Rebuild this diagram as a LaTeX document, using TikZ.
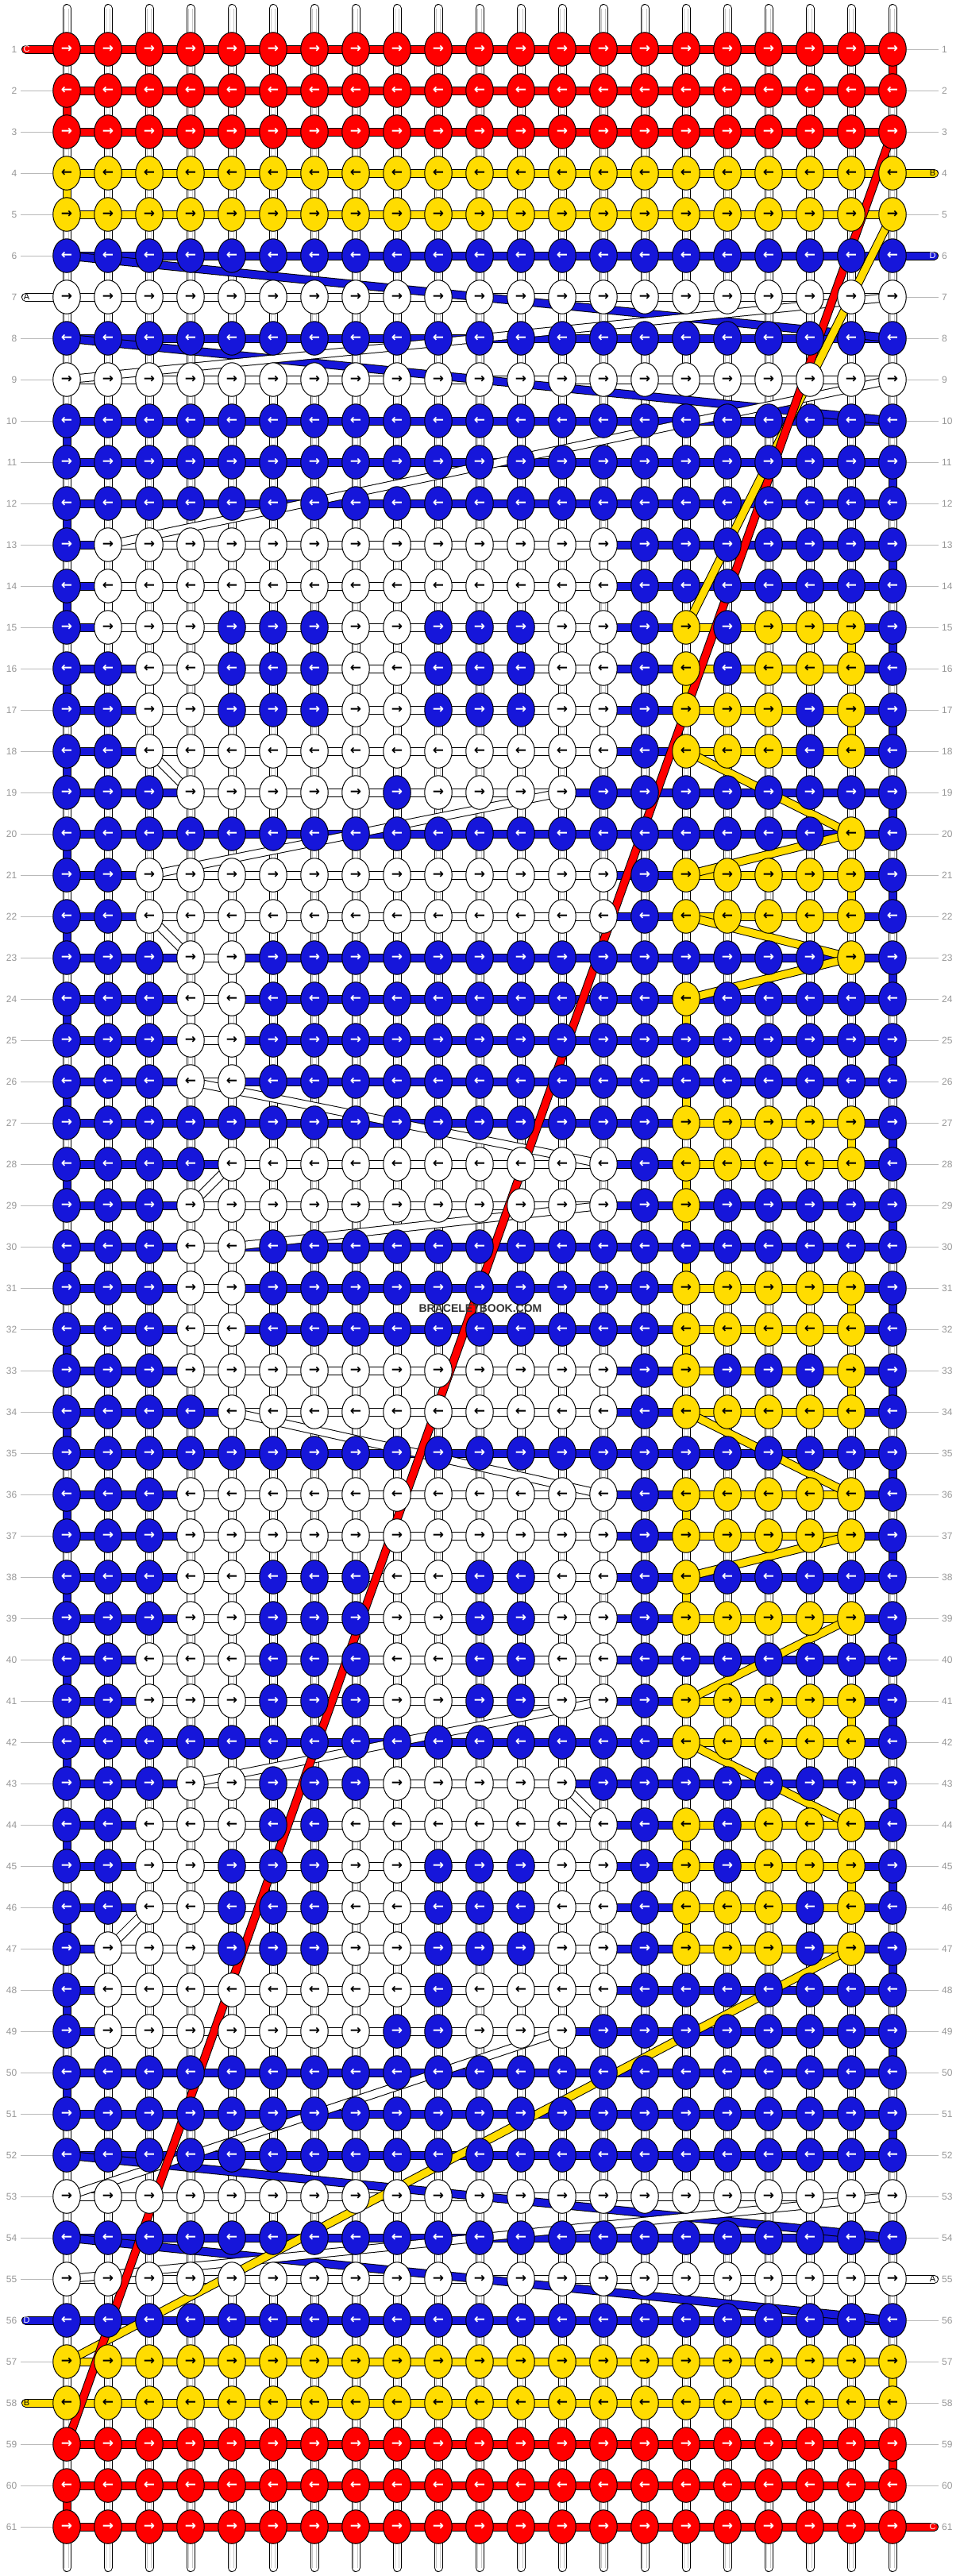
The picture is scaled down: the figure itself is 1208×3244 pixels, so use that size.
\documentclass[tikz,border=0pt]{standalone}
\usepackage{fontspec}
\setmainfont{Liberation Sans}
\newfontfamily\arrowfont{DejaVu Sans}
\usetikzlibrary{shapes.geometric}

\definecolor{kred}{RGB}{255,0,0}
\definecolor{kblue}{RGB}{22,22,218}
\definecolor{kyellow}{RGB}{255,220,0}
\definecolor{numgrey}{RGB}{150,150,150}
\definecolor{tickgrey}{RGB}{185,185,185}
% knot fill (f) and arrow (t) colours by letter
\colorlet{fR}{kred}\colorlet{fB}{kblue}\colorlet{fY}{kyellow}\colorlet{fW}{white}
\colorlet{tR}{white}\colorlet{tB}{white}\colorlet{tY}{black}\colorlet{tW}{black}

\pgfdeclarelayer{warps}
\pgfdeclarelayer{bands}
\pgfdeclarelayer{diags}
\pgfsetlayers{warps,bands,diags,main}

\tikzset{
  knot/.style={ellipse, draw=black, line width=1pt, minimum width=34.5pt,
    minimum height=42.5pt, inner sep=0pt,
    font=\arrowfont\bfseries\fontsize{17}{17}\selectfont},
  band/.style={draw=black, line width=11pt, postaction={draw=#1, line width=9pt}},
  tab/.style={band=#1, line cap=round},
  warpout/.style={draw=black, line width=11pt, line cap=round},
  warpin/.style={draw=white, line width=9pt, line cap=round},
  warpmid/.style={draw=black!22, line width=0.8pt},
  rownum/.style={text=numgrey, font=\fontsize{12}{12}\selectfont, inner sep=0pt},
  rowline/.style={draw=tickgrey, line width=1pt},
  tabtext/.style={font=\fontsize{11}{11}\selectfont, inner sep=0pt},
}

\begin{document}
\begin{tikzpicture}[x=1pt,y=-1pt]
\useasboundingbox (0,0) rectangle (1208,3244);

%%% knots, one row per line %%%
\foreach \r/\pat in {
  1/{R,R,R,R,R,R,R,R,R,R,R,R,R,R,R,R,R,R,R,R,R},
  2/{R,R,R,R,R,R,R,R,R,R,R,R,R,R,R,R,R,R,R,R,R},
  3/{R,R,R,R,R,R,R,R,R,R,R,R,R,R,R,R,R,R,R,R,R},
  4/{Y,Y,Y,Y,Y,Y,Y,Y,Y,Y,Y,Y,Y,Y,Y,Y,Y,Y,Y,Y,Y},
  5/{Y,Y,Y,Y,Y,Y,Y,Y,Y,Y,Y,Y,Y,Y,Y,Y,Y,Y,Y,Y,Y},
  6/{B,B,B,B,B,B,B,B,B,B,B,B,B,B,B,B,B,B,B,B,B},
  7/{W,W,W,W,W,W,W,W,W,W,W,W,W,W,W,W,W,W,W,W,W},
  8/{B,B,B,B,B,B,B,B,B,B,B,B,B,B,B,B,B,B,B,B,B},
  9/{W,W,W,W,W,W,W,W,W,W,W,W,W,W,W,W,W,W,W,W,W},
  10/{B,B,B,B,B,B,B,B,B,B,B,B,B,B,B,B,B,B,B,B,B},
  11/{B,B,B,B,B,B,B,B,B,B,B,B,B,B,B,B,B,B,B,B,B},
  12/{B,B,B,B,B,B,B,B,B,B,B,B,B,B,B,B,B,B,B,B,B},
  13/{B,W,W,W,W,W,W,W,W,W,W,W,W,W,B,B,B,B,B,B,B},
  14/{B,W,W,W,W,W,W,W,W,W,W,W,W,W,B,B,B,B,B,B,B},
  15/{B,W,W,W,B,B,B,W,W,B,B,B,W,W,B,Y,B,Y,Y,Y,B},
  16/{B,B,W,W,B,B,B,W,W,B,B,B,W,W,B,Y,B,Y,Y,Y,B},
  17/{B,B,W,W,B,B,B,W,W,B,B,B,W,W,B,Y,Y,Y,B,Y,B},
  18/{B,B,W,W,W,W,W,W,W,W,W,W,W,W,B,Y,Y,Y,B,Y,B},
  19/{B,B,B,W,W,W,W,W,B,W,W,W,W,B,B,B,B,B,B,B,B},
  20/{B,B,B,B,B,B,B,B,B,B,B,B,B,B,B,B,B,B,B,Y,B},
  21/{B,B,W,W,W,W,W,W,W,W,W,W,W,W,B,Y,Y,Y,Y,Y,B},
  22/{B,B,W,W,W,W,W,W,W,W,W,W,W,W,B,Y,Y,Y,Y,Y,B},
  23/{B,B,B,W,W,B,B,B,B,B,B,B,B,B,B,B,B,B,B,Y,B},
  24/{B,B,B,W,W,B,B,B,B,B,B,B,B,B,B,Y,B,B,B,B,B},
  25/{B,B,B,W,W,B,B,B,B,B,B,B,B,B,B,B,B,B,B,B,B},
  26/{B,B,B,W,W,B,B,B,B,B,B,B,B,B,B,B,B,B,B,B,B},
  27/{B,B,B,B,B,B,B,B,B,B,B,B,B,B,B,Y,Y,Y,Y,Y,B},
  28/{B,B,B,B,W,W,W,W,W,W,W,W,W,W,B,Y,Y,Y,Y,Y,B},
  29/{B,B,B,W,W,W,W,W,W,W,W,W,W,W,B,Y,B,B,B,B,B},
  30/{B,B,B,W,W,B,B,B,B,B,B,B,B,B,B,B,B,B,B,B,B},
  31/{B,B,B,W,W,B,B,B,B,B,B,B,B,B,B,Y,Y,Y,Y,Y,B},
  32/{B,B,B,W,W,B,B,B,B,B,B,B,B,B,B,Y,Y,Y,Y,Y,B},
  33/{B,B,B,W,W,W,W,W,W,W,W,W,W,W,B,Y,B,B,B,Y,B},
  34/{B,B,B,B,W,W,W,W,W,W,W,W,W,W,B,Y,Y,Y,Y,Y,B},
  35/{B,B,B,B,B,B,B,B,B,B,B,B,B,B,B,B,B,B,B,B,B},
  36/{B,B,B,W,W,W,W,W,W,W,W,W,W,W,B,Y,Y,Y,Y,Y,B},
  37/{B,B,B,W,W,W,W,W,W,W,W,W,W,W,B,Y,Y,Y,Y,Y,B},
  38/{B,B,B,W,W,B,B,B,W,W,B,B,W,W,B,Y,B,B,B,B,B},
  39/{B,B,B,W,W,B,B,B,W,W,B,B,W,W,B,Y,Y,Y,Y,Y,B},
  40/{B,B,W,W,W,B,B,B,W,W,B,B,W,W,B,B,B,B,B,B,B},
  41/{B,B,W,W,W,B,B,B,W,W,B,B,W,W,B,Y,Y,Y,Y,Y,B},
  42/{B,B,B,B,B,B,B,B,B,B,B,B,B,B,B,Y,Y,Y,Y,Y,B},
  43/{B,B,B,W,W,B,B,B,W,W,W,W,W,B,B,B,B,B,B,B,B},
  44/{B,B,W,W,W,B,B,W,W,W,W,W,W,W,B,Y,B,Y,Y,Y,B},
  45/{B,B,W,W,B,B,B,W,W,B,B,B,W,W,B,Y,B,Y,Y,Y,B},
  46/{B,B,W,W,B,B,B,W,W,B,B,B,W,W,B,Y,Y,Y,B,Y,B},
  47/{B,W,W,W,B,B,B,W,W,B,B,B,W,W,B,Y,Y,Y,B,Y,B},
  48/{B,W,W,W,W,W,W,W,W,B,W,W,W,W,B,B,B,B,B,B,B},
  49/{B,W,W,W,W,W,W,W,B,B,W,W,W,B,B,B,B,B,B,B,B},
  50/{B,B,B,B,B,B,B,B,B,B,B,B,B,B,B,B,B,B,B,B,B},
  51/{B,B,B,B,B,B,B,B,B,B,B,B,B,B,B,B,B,B,B,B,B},
  52/{B,B,B,B,B,B,B,B,B,B,B,B,B,B,B,B,B,B,B,B,B},
  53/{W,W,W,W,W,W,W,W,W,W,W,W,W,W,W,W,W,W,W,W,W},
  54/{B,B,B,B,B,B,B,B,B,B,B,B,B,B,B,B,B,B,B,B,B},
  55/{W,W,W,W,W,W,W,W,W,W,W,W,W,W,W,W,W,W,W,W,W},
  56/{B,B,B,B,B,B,B,B,B,B,B,B,B,B,B,B,B,B,B,B,B},
  57/{Y,Y,Y,Y,Y,Y,Y,Y,Y,Y,Y,Y,Y,Y,Y,Y,Y,Y,Y,Y,Y},
  58/{Y,Y,Y,Y,Y,Y,Y,Y,Y,Y,Y,Y,Y,Y,Y,Y,Y,Y,Y,Y,Y},
  59/{R,R,R,R,R,R,R,R,R,R,R,R,R,R,R,R,R,R,R,R,R},
  60/{R,R,R,R,R,R,R,R,R,R,R,R,R,R,R,R,R,R,R,R,R},
  61/{R,R,R,R,R,R,R,R,R,R,R,R,R,R,R,R,R,R,R,R,R}}{
  \foreach \k [count=\c] in \pat
    \node[knot, fill=f\k, text=t\k] (k-\r-\c) at (32+52*\c,10+52*\r)
      {\ifodd\r →\else ←\fi};
}

%%% warp strings %%%
\begin{pgfonlayer}{warps}
\foreach \c in {1,...,21} {
  \coordinate (wt-\c) at (32+52*\c,10.5);
  \coordinate (wb-\c) at (32+52*\c,3233.5);
  \draw[warpout] (wt-\c) -- (wb-\c);
  \draw[warpin] (wt-\c) -- (wb-\c);
  \draw[warpmid] ([xshift=-2.8pt]wt-\c) -- ([xshift=-2.8pt]wb-\c);
  \draw[warpmid] ([xshift=2.8pt]wt-\c) -- ([xshift=2.8pt]wb-\c);
}
\end{pgfonlayer}

%%% strings running along the rows %%%
\begin{pgfonlayer}{bands}
\foreach \r in {6,8,10,11,...,52,54,56}
  \draw[band=kblue] (k-\r-1.center) -- (k-\r-21.center);
\foreach \r/\a/\b/\col in {1/1/21/kred,2/1/21/kred,3/1/21/kred,
    59/1/21/kred,60/1/21/kred,61/1/21/kred,
    4/1/21/kyellow,5/1/21/kyellow,57/1/21/kyellow,58/1/21/kyellow,
    15/16/20/kyellow,16/16/20/kyellow,17/16/20/kyellow,18/16/20/kyellow,
    21/16/20/kyellow,22/16/20/kyellow,27/16/20/kyellow,28/16/20/kyellow,
    31/16/20/kyellow,32/16/20/kyellow,33/16/20/kyellow,34/16/20/kyellow,
    36/16/20/kyellow,37/16/20/kyellow,39/16/20/kyellow,41/16/20/kyellow,
    42/16/20/kyellow,44/16/20/kyellow,45/16/20/kyellow,46/16/20/kyellow,
    47/16/20/kyellow,
    7/1/21/white,9/1/21/white,53/1/21/white,55/1/21/white,
    13/2/14/white,14/2/14/white,15/2/14/white,16/3/14/white,17/3/14/white,
    18/3/14/white,19/4/13/white,21/3/14/white,22/3/14/white,23/4/5/white,
    24/4/5/white,25/4/5/white,26/4/5/white,28/5/14/white,29/4/14/white,
    30/4/5/white,31/4/5/white,32/4/5/white,33/4/14/white,34/5/14/white,
    36/4/14/white,37/4/14/white,38/4/14/white,39/4/14/white,40/3/14/white,
    41/3/14/white,43/4/13/white,44/3/14/white,45/3/14/white,46/3/14/white,
    47/2/14/white,48/2/14/white,49/2/13/white}
  \draw[band=\col] (k-\r-\a.center) -- (k-\r-\b.center);

% loose ends
\coordinate (in-C) at (32.5,62);
\coordinate (in-A) at (32.5,374);
\coordinate (in-B) at (1176.5,218);
\coordinate (in-D) at (1176.5,322);
\coordinate (out-A) at (1176.5,2870);
\coordinate (out-D) at (32.5,2922);
\coordinate (out-B) at (32.5,3026);
\coordinate (out-C) at (1176.5,3182);
\draw[tab=kred] (in-C) -- (k-1-1.center);
\draw[tab=white] (in-A) -- (k-7-1.center);
\draw[tab=kyellow] (in-B) -- (k-4-21.center);
\draw[tab=kblue] (in-D) -- (k-6-21.center);
\draw[tab=white] (out-A) -- (k-55-21.center);
\draw[tab=kblue] (out-D) -- (k-56-1.center);
\draw[tab=kyellow] (out-B) -- (k-58-1.center);
\draw[tab=kred] (out-C) -- (k-61-21.center);
\end{pgfonlayer}

%%% strings going from row to row %%%
\begin{pgfonlayer}{diags}
\foreach \r [evaluate=\r as \s using int(\r+1)] in {10,12,...,50}
  \draw[band=kblue] (k-\r-1.center) -- (k-\s-1.center);
\foreach \r [evaluate=\r as \s using int(\r+1)] in {11,13,...,51}
  \draw[band=kblue] (k-\r-21.center) -- (k-\s-21.center);
\foreach \ra/\ca/\rb/\cb/\col in {6/1/8/21/kblue,8/1/10/21/kblue,
    52/1/54/21/kblue,54/1/56/21/kblue,
    7/21/9/1/white,9/21/13/2/white,13/14/14/14/white,14/2/15/2/white,
    15/14/16/14/white,16/3/17/3/white,17/14/18/14/white,18/3/19/4/white,
    19/13/21/3/white,21/14/22/14/white,22/3/23/4/white,23/5/24/5/white,
    24/4/25/4/white,25/5/26/5/white,26/4/28/14/white,28/5/29/4/white,
    29/14/30/5/white,30/4/31/4/white,31/5/32/5/white,32/4/33/4/white,
    33/14/34/14/white,34/5/36/14/white,36/4/37/4/white,37/14/38/14/white,
    38/4/39/4/white,39/14/40/14/white,40/3/41/3/white,41/14/43/4/white,
    43/13/44/14/white,44/3/45/3/white,45/14/46/14/white,46/3/47/2/white,
    47/14/48/14/white,48/2/49/2/white,49/13/53/1/white,53/21/55/1/white,
    4/1/5/1/kyellow,5/21/15/16/kyellow,15/20/16/20/kyellow,16/16/17/16/kyellow,
    17/20/18/20/kyellow,18/16/20/20/kyellow,20/20/21/16/kyellow,
    21/20/22/20/kyellow,22/16/23/20/kyellow,23/20/24/16/kyellow,
    24/16/27/16/kyellow,27/20/28/20/kyellow,28/16/29/16/kyellow,
    29/16/31/16/kyellow,31/20/32/20/kyellow,32/16/33/16/kyellow,
    33/20/34/20/kyellow,34/16/36/20/kyellow,36/16/37/16/kyellow,
    37/20/38/16/kyellow,38/16/39/16/kyellow,39/20/41/16/kyellow,
    41/20/42/20/kyellow,42/16/44/20/kyellow,44/16/45/16/kyellow,
    45/20/46/20/kyellow,46/16/47/16/kyellow,47/20/57/1/kyellow,
    57/21/58/21/kyellow,
    1/21/2/21/kred,2/1/3/1/kred,3/21/59/1/kred,59/21/60/21/kred,60/1/61/1/kred}
  \draw[band=\col] (k-\ra-\ca.center) -- (k-\rb-\cb.center);
\end{pgfonlayer}

%%% string letters %%%
\node[tabtext, text=white] (lbl-in-C) at (33.5,62) {C};
\node[tabtext] (lbl-in-A) at (33.5,374) {A};
\node[tabtext] (lbl-in-B) at (1174.5,218) {B};
\node[tabtext, text=white] (lbl-in-D) at (1174.5,322) {D};
\node[tabtext] (lbl-out-A) at (1174.5,2870) {A};
\node[tabtext, text=white] (lbl-out-D) at (33.5,2922) {D};
\node[tabtext] (lbl-out-B) at (33.5,3026) {B};
\node[tabtext, text=white] (lbl-out-C) at (1174.5,3182) {C};

%%% row numbers %%%
\foreach \r in {1,...,61} {
  \node[rownum, anchor=east] (ln-\r) at (21.5,10+52*\r) {\r};
  \node[rownum, anchor=west] (rn-\r) at (1186,10+52*\r) {\r};
}
\foreach \r in {2,...,6,8,9,...,55,57,59,60,61} {
  \coordinate (lt-\r) at (26,10+52*\r);
  \draw[rowline] (lt-\r) -- (k-\r-1.west);
}
\foreach \r in {1,2,3,5,7,8,...,54,56,57,...,60} {
  \coordinate (rt-\r) at (1182,10+52*\r);
  \draw[rowline] (k-\r-21.east) -- (rt-\r);
}

\node[font=\fontsize{14}{14}\selectfont\bfseries, text=black!80, inner sep=0pt]
  (mark) at (605,1648) {BRACELETBOOK.COM};
\end{tikzpicture}
\end{document}
